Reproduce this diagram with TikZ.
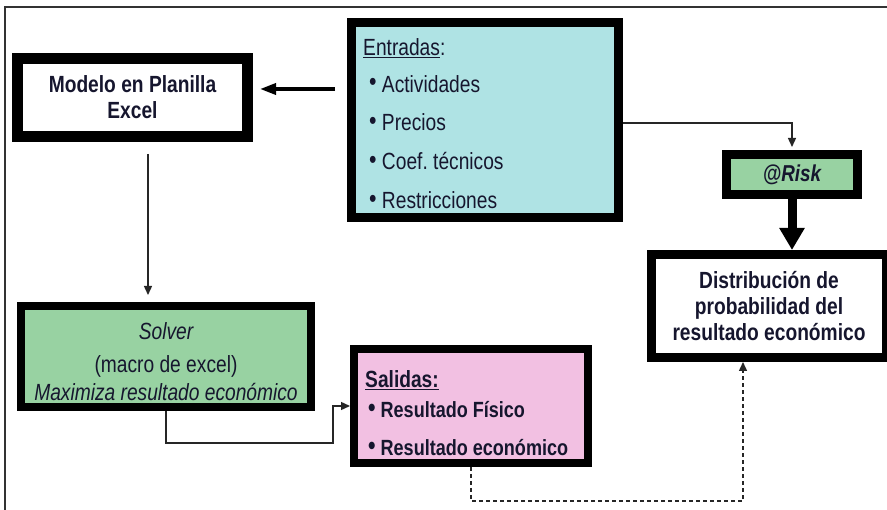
\documentclass[tikz,border=0pt]{standalone}
\usepackage{fontspec}
\setmainfont{Liberation Sans}[FakeStretch=0.82]
\usetikzlibrary{arrows.meta}

\definecolor{entcol}{HTML}{AFE3E4}
\definecolor{solcol}{HTML}{98D2A2}
\definecolor{salcol}{HTML}{F2C0E2}
\definecolor{inkcol}{HTML}{16162E}
\definecolor{wirecol}{HTML}{262626}
\newcommand{\bul}{{\fontsize{26}{26}\selectfont\raisebox{1.5pt}{\textbullet}}}

\begin{document}
\begin{tikzpicture}[x=1pt,y=-1pt,
	txt/.style={font=\fontsize{23.4}{26}\selectfont, text=inkcol, inner sep=0pt},
	btxt/.style={font=\bfseries\fontsize{23.4}{26}\selectfont, text=inkcol, inner sep=0pt},
	box/.style={draw=black, line width=#1, inner sep=0pt, txt, align=center},
	box/.default=9pt,
	item/.style={txt, anchor=base west},
	wire/.style={draw=wirecol, line width=1.4pt, -{Triangle[length=9pt,width=8pt]}},
]
% border
\useasboundingbox (0,0) rectangle (887,510);
\draw[line width=1.5pt, black!80] (5,510) -- (5,7) -- (887,7);

% model and inputs
\node[box=11pt, fill=white, minimum width=230pt, minimum height=78pt, btxt, text depth=0pt] (modelo) at (132.5,97.5) {Modelo en Planilla\\Excel};

\node[box, fill=entcol, minimum width=267pt, minimum height=195pt] (entradas) at (485,120) {};
\node[item] (enttit) at (363,56) {\underline{Entradas}:};
\foreach \t/\yy [count=\k] in {Actividades/92.5, Precios/131, Coef.\ técnicos/170, Restricciones/209} {
	\node[item] (ent\k) at (369,\yy) {\bul\ \t};
}

% @Risk and distribution
\node[box, fill=solcol, minimum width=131pt, minimum height=40pt, font=\bfseries\itshape\fontsize{23}{26}\selectfont] (risk) at (792,174.5) {@Risk};
\node[box, fill=white, minimum width=235pt, minimum height=103pt, btxt] (distrib) at (769,306) {Distribución de\\probabilidad del\\resultado económico};

% solver
\node[box=8pt, fill=solcol, minimum width=290pt, minimum height=101pt] (solver) at (166,356.5) {};
\node[txt, anchor=base, font=\itshape\fontsize{23.4}{26}\selectfont] (solv1) at (166,340) {Solver};
\node[txt, anchor=base] (solv2) at (166,373) {(macro de excel)};
\node[txt, anchor=base, font=\itshape\fontsize{23.4}{26}\selectfont] (solv3) at (166,401) {Maximiza resultado económico};

% outputs
\node[box=8pt, fill=salcol, minimum width=234pt, minimum height=114pt] (salidas) at (471,406) {};
\node[item, btxt, anchor=base west] (saltit) at (365,388) {\underline{Salidas:}};
\node[item, font=\bfseries\fontsize{22}{26}\selectfont] (sal1) at (368,418) {\bul\ Resultado Físico};
\node[item, font=\bfseries\fontsize{22}{26}\selectfont] (sal2) at (368,456) {\bul\ Resultado económico};

% connectors
\draw[line width=3.5pt, -{Triangle[length=16pt,width=11pt]}, shorten <=12pt, shorten >=7pt]
	([yshift=8.5pt]modelo.east -| entradas.west) -- ([yshift=8.5pt]modelo.east);
\draw[wire, shorten >=3pt] ([yshift=-3pt]entradas.east) -| (risk.north);
\draw[line width=9pt, -{Triangle[length=22pt,width=24pt]}] (risk.south) -- (risk.south |- distrib.north);

\coordinate (modx) at ([xshift=15.5pt]modelo.south);
\draw[wire, shorten <=12pt, shorten >=7pt] (modx) -- (modx |- solver.north);

\coordinate (solbend) at (333,443);
\draw[wire] (solver.south) |- (solbend) |- (salidas.west);

\coordinate (resbend) at (743,501);
\draw[wire, dash pattern=on 4pt off 3pt] (salidas.south) |- (resbend) -- (resbend |- distrib.south);

\end{tikzpicture}
\end{document}
